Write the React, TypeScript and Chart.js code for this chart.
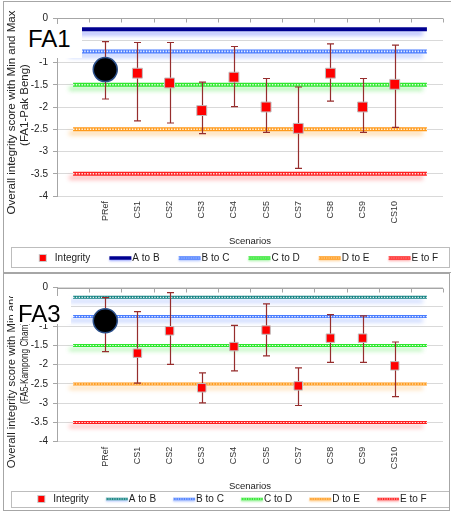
import React, { useEffect, useRef } from 'react';
import { Chart, registerables } from 'chart.js';

Chart.register(...registerables);

const FONT = "'Liberation Sans', Arial, Helvetica, sans-serif";
Chart.defaults.font.family = FONT;

// ---------- data ----------
const CATEGORIES = ['', 'PRef', 'CS1', 'CS2', 'CS3', 'CS4', 'CS5', 'CS7', 'CS8', 'CS9', 'CS10', ''];
const HIGHLIGHT_CATEGORY = 'PRef';

const Y_MIN = -4;
const Y_MAX = 0;
const Y_STEP = 0.5;

const Y_TITLE = 'Overall integrity score with Min and Max';
const X_TITLE = 'Scenarios';

// FA1 - Pak Beng
const FA1_INTEGRITY = [null, -1.16, -1.24, -1.46, -2.08, -1.33, -2.0, -2.48, -1.24, -2.0, -1.49, null];
const FA1_MAX = [null, -0.53, -0.55, -0.55, -1.44, -0.64, -1.36, -1.55, -0.58, -1.36, -0.61, null];
const FA1_MIN = [null, -1.82, -2.31, -2.36, -2.6, -1.99, -2.57, -3.38, -1.87, -2.57, -2.46, null];

// FA3 - Kampong Cham
const FA3_INTEGRITY = [null, -0.86, -1.7, -1.12, -2.6, -1.53, -1.1, -2.55, -1.31, -1.31, -2.03, null];
const FA3_MAX = [null, -0.26, -0.62, -0.13, -2.21, -0.98, -0.42, -2.08, -0.7, -0.73, -1.41, null];
const FA3_MIN = [null, -1.66, -2.48, -1.99, -2.99, -2.16, -1.77, -3.06, -1.94, -1.94, -2.83, null];

// class boundary lines
const A_TO_B = [-0.25, -0.25, -0.25, -0.25, -0.25, -0.25, -0.25, -0.25, -0.25, -0.25, -0.25, -0.25];
const B_TO_C = [-0.75, -0.75, -0.75, -0.75, -0.75, -0.75, -0.75, -0.75, -0.75, -0.75, -0.75, -0.75];
const C_TO_D = [-1.5, -1.5, -1.5, -1.5, -1.5, -1.5, -1.5, -1.5, -1.5, -1.5, -1.5, -1.5];
const D_TO_E = [-2.5, -2.5, -2.5, -2.5, -2.5, -2.5, -2.5, -2.5, -2.5, -2.5, -2.5, -2.5];
const E_TO_F = [-3.5, -3.5, -3.5, -3.5, -3.5, -3.5, -3.5, -3.5, -3.5, -3.5, -3.5, -3.5];

// ---------- styles ----------
const LINE_STYLES_FA1 = [
  { label: 'A to B', data: A_TO_B, color: '#000090', glow: 'rgba(90,110,255,0.5)', dotted: false },
  { label: 'B to C', data: B_TO_C, color: '#4a7dff', glow: 'rgba(100,140,255,0.45)', dotted: true },
  { label: 'C to D', data: C_TO_D, color: '#2ee82e', glow: 'rgba(80,230,80,0.45)', dotted: true },
  { label: 'D to E', data: D_TO_E, color: '#ff9a1a', glow: 'rgba(255,170,60,0.45)', dotted: true },
  { label: 'E to F', data: E_TO_F, color: '#ff1f1f', glow: 'rgba(255,70,70,0.4)', dotted: true },
];
const LINE_STYLES_FA3 = [
  { label: 'A to B', data: A_TO_B, color: '#128282', glow: 'rgba(100,140,255,0.4)', dotted: true },
  { label: 'B to C', data: B_TO_C, color: '#4a7dff', glow: 'rgba(100,140,255,0.45)', dotted: true },
  { label: 'C to D', data: C_TO_D, color: '#2ee82e', glow: 'rgba(80,230,80,0.45)', dotted: true },
  { label: 'D to E', data: D_TO_E, color: '#ff9a1a', glow: 'rgba(255,170,60,0.45)', dotted: true },
  { label: 'E to F', data: E_TO_F, color: '#ff1f1f', glow: 'rgba(255,70,70,0.4)', dotted: true },
];

const FA1_SPEC = {
  yTitle: [
    { text: Y_TITLE, size: 11.5, x: 12, dy: 5.5, maxWidth: 0 },
    { text: '(FA1-Pak Beng)', size: 11.5, x: 25, dy: -2, maxWidth: 0 },
  ],
  integrity: FA1_INTEGRITY, max: FA1_MAX, min: FA1_MIN,
  lines: LINE_STYLES_FA1,
  lineWidth: 4,
  markerRadius: 7,
  highlightRadius: 12,
  padding: { top: 18, left: 0, right: 1, bottom: 0 },
  xAxisHeight: 52,
  xTitlePadBottom: 2.25,
  legendPadding: 5,
  legendShift: 3,
  legendBox: { left: 11, right: 449, above: 11, below: 9 },
};
const FA3_SPEC = {
  yTitle: [
    { text: Y_TITLE, size: 11.3, x: 12, dy: 3.3, maxWidth: 0 },
    { text: '(FA5-Kampong Cham)', size: 11, x: 25, dy: -1.7, maxWidth: 82 },
  ],
  integrity: FA3_INTEGRITY, max: FA3_MAX, min: FA3_MIN,
  lines: LINE_STYLES_FA3,
  lineWidth: 3,
  markerRadius: 6,
  highlightRadius: 12,
  padding: { top: 14.7, left: 0, right: 8, bottom: 0 },
  xAxisHeight: 49.3,
  xTitlePadBottom: 0,
  legendPadding: 3,
  legendShift: 0,
  legendBox: { left: 11, right: 449, above: 8, below: 8 },
};

const ERROR_COLOR = '#962d2d';

function legendImage(kind: string, color: string, glow: string, dotted: boolean, lw: number) {
  const c = document.createElement('canvas');
  c.width = 42;
  c.height = 12;
  const g = c.getContext('2d') as CanvasRenderingContext2D;
  if (kind === 'marker') {
    g.fillStyle = color;
    g.fillRect(27, 3, 6, 6);
    g.strokeStyle = '#c8c8c8';
    g.lineWidth = 1;
    g.strokeRect(26.5, 2.5, 7, 7);
    return c;
  }
  g.save();
  g.shadowColor = glow;
  g.shadowBlur = 2;
  g.shadowOffsetY = 1.5;
  g.strokeStyle = color;
  g.lineWidth = lw;
  g.beginPath();
  g.moveTo(19, 6);
  g.lineTo(41, 6);
  g.stroke();
  g.restore();
  if (dotted) {
    g.strokeStyle = 'rgba(255,255,255,0.9)';
    g.lineWidth = 1;
    g.setLineDash([1.2, 1.2]);
    g.beginPath();
    g.moveTo(19, 6);
    g.lineTo(41, 6);
    g.stroke();
  }
  return c;
}

function buildConfig(spec: any) {
  const isHi = (c: any) => CATEGORIES[c.dataIndex] === HIGHLIGHT_CATEGORY;
  const datasets: any[] = [
    {
      label: 'Integrity',
      data: spec.integrity,
      showLine: false,
      pointStyle: (c: any) => (isHi(c) ? 'circle' : 'rect'),
      pointRadius: (c: any) => (isHi(c) ? spec.highlightRadius : spec.markerRadius),
      pointBackgroundColor: (c: any) => (isHi(c) ? '#000000' : '#ff0000'),
      pointBorderColor: (c: any) => (isHi(c) ? '#2b4f8a' : '#bfbfbf'),
      pointBorderWidth: (c: any) => (isHi(c) ? 1.5 : 1),
    },
    ...spec.lines.map((l: any) => ({
      label: l.label,
      data: l.data,
      borderColor: l.color,
      backgroundColor: l.color,
      borderWidth: spec.lineWidth,
      pointRadius: 0,
      fill: false,
      tension: 0,
      glowColor: l.glow,
      dotted: l.dotted,
    })),
  ];

  const legendItems = [
    { text: 'Integrity', pointStyle: legendImage('marker', '#ff0000', '', false, 0) },
    ...spec.lines.map((l: any) => ({
      text: l.label,
      pointStyle: legendImage('line', l.color, l.glow, l.dotted, spec.lineWidth - 0.5),
    })),
  ].map((it, i) => ({
    ...it,
    fillStyle: 'rgba(0,0,0,0)',
    strokeStyle: 'rgba(0,0,0,0)',
    lineWidth: 0,
    hidden: false,
    datasetIndex: i,
    fontColor: '#222',
  }));

  const drawErrorBars = (chart: any) => {
    const ctx = chart.ctx;
    const xs = chart.scales.x;
    const ys = chart.scales.y;
    ctx.save();
    ctx.strokeStyle = ERROR_COLOR;
    ctx.lineWidth = 1.2;
    for (let i = 0; i < CATEGORIES.length; i++) {
      const hi = spec.max[i];
      const lo = spec.min[i];
      if (hi == null || lo == null) continue;
      const x = Math.round(xs.getPixelForValue(i)) + 0.5;
      const y1 = ys.getPixelForValue(hi);
      const y2 = ys.getPixelForValue(lo);
      ctx.beginPath();
      ctx.moveTo(x, y1);
      ctx.lineTo(x, y2);
      ctx.moveTo(x - 3.5, y1);
      ctx.lineTo(x + 3.5, y1);
      ctx.moveTo(x - 3.5, y2);
      ctx.lineTo(x + 3.5, y2);
      ctx.stroke();
    }
    ctx.restore();
  };

  const decor = {
    id: 'panelDecor',
    afterLayout(chart: any) {
      if (chart.legend) {
        chart.legend.left += spec.legendShift;
        chart.legend.right += spec.legendShift;
      }
    },
    beforeDatasetsDraw(chart: any) {
      const ctx = chart.ctx;
      const xs = chart.scales.x;
      const ys = chart.scales.y;
      const { left, right } = chart.chartArea;
      const y = Math.round(ys.getPixelForValue(Y_MAX)) + 0.5;
      ctx.save();
      ctx.strokeStyle = '#a6a6a6';
      ctx.lineWidth = 1;
      ctx.beginPath();
      ctx.moveTo(left, y);
      ctx.lineTo(right, y);
      for (let i = 0; i <= CATEGORIES.length; i++) {
        const x = Math.round(xs.getPixelForValue(i - 0.5)) + 0.5;
        ctx.moveTo(x, y);
        ctx.lineTo(x, y + 4);
      }
      ctx.stroke();
      ctx.restore();
    },
    beforeDatasetDraw(chart: any, args: any) {
      const ds = chart.data.datasets[args.index];
      const ctx = chart.ctx;
      if (ds.glowColor) {
        ctx.save();
        ctx.shadowColor = ds.glowColor;
        ctx.shadowBlur = 4;
        ctx.shadowOffsetX = -4;
        ctx.shadowOffsetY = 4;
      }
      if (args.index === 0) drawErrorBars(chart);
    },
    afterDatasetDraw(chart: any, args: any) {
      const ds = chart.data.datasets[args.index];
      const ctx = chart.ctx;
      if (ds.glowColor) ctx.restore();
      if (ds.dotted) {
        const pts = args.meta.data;
        if (!pts.length) return;
        ctx.save();
        ctx.strokeStyle = 'rgba(255,255,255,0.9)';
        ctx.lineWidth = ds.borderWidth * 0.38;
        ctx.setLineDash([1.4, 1.4]);
        ctx.beginPath();
        ctx.moveTo(pts[0].x, pts[0].y);
        for (let i = 1; i < pts.length; i++) ctx.lineTo(pts[i].x, pts[i].y);
        ctx.stroke();
        ctx.restore();
      }
    },
    afterDraw(chart: any) {
      const ctx = chart.ctx;
      // y-axis title (two lines, rotated)
      const ca = chart.chartArea;
      const mid = (ca.top + ca.bottom) / 2;
      for (const t of spec.yTitle) {
        ctx.save();
        ctx.translate(t.x, mid + t.dy);
        ctx.rotate(-Math.PI / 2);
        ctx.font = `${t.size}px ${FONT}`;
        ctx.fillStyle = '#222';
        ctx.textAlign = 'center';
        ctx.textBaseline = 'middle';
        if (t.maxWidth) ctx.fillText(t.text, 0, 0, t.maxWidth);
        else ctx.fillText(t.text, 0, 0);
        ctx.restore();
      }
      // legend frame
      const lg = chart.legend;
      if (!lg || !lg.legendHitBoxes || !lg.legendHitBoxes.length) return;
      const hb = lg.legendHitBoxes[0];
      const cy = hb.top + hb.height / 2;
      const b = spec.legendBox;
      ctx.save();
      ctx.strokeStyle = '#bdbdbd';
      ctx.lineWidth = 1;
      ctx.strokeRect(b.left + 0.5, Math.round(cy - b.above) + 0.5, b.right - b.left, b.above + b.below);
      ctx.restore();
    },
  };

  return {
    type: 'line',
    data: { labels: CATEGORIES, datasets },
    plugins: [decor],
    options: {
      responsive: false,
      animation: false,
      events: [],
      layout: { padding: spec.padding },
      plugins: {
        tooltip: { enabled: false },
        legend: {
          position: 'bottom',
          labels: {
            usePointStyle: true,
            pointStyleWidth: 32,
            padding: spec.legendPadding,
            font: { size: 10, family: FONT },
            color: '#222',
            generateLabels: () => legendItems,
          },
        },
      },
      scales: {
        x: {
          type: 'category',
          offset: true,
          grid: { display: false, drawTicks: false },
          border: { display: false },
          ticks: {
            autoSkip: false,
            maxRotation: 90,
            minRotation: 90,
            padding: 5,
            font: { size: 9, family: FONT },
            color: '#333',
          },
          title: {
            display: true,
            text: X_TITLE,
            color: '#222',
            font: { size: 9.5, lineHeight: 1, family: FONT },
            padding: { top: 0, bottom: spec.xTitlePadBottom },
          },
          afterFit: (s: any) => {
            s.height = spec.xAxisHeight;
          },
        },
        y: {
          min: Y_MIN,
          max: Y_MAX,
          ticks: {
            stepSize: Y_STEP,
            padding: 5,
            font: { size: 10, family: FONT },
            color: '#222',
            callback: (v: any) => String(Number(v)),
          },
          grid: { color: '#d9d9d9', tickColor: '#a6a6a6', tickLength: 4 },
          border: { color: '#a6a6a6' },
          title: { display: false },
          afterFit: (s: any) => {
            s.width = 57;
          },
        },
      },
    },
  };
}

function ChartPanel({ spec, width, height }: { spec: any; width: number; height: number }) {
  const ref = useRef<HTMLCanvasElement | null>(null);
  useEffect(() => {
    if (!ref.current) return;
    const chart = new Chart(ref.current, buildConfig(spec) as any);
    return () => chart.destroy();
  }, [spec]);
  return <canvas ref={ref} width={width} height={height} style={{ display: 'block', width, height }} />;
}

function LabelBox({ text, left, top, width, height, textLeft, textTop }: any) {
  return (
    <div style={{ position: 'absolute', left, top, width, height, background: '#ffffff' }}>
      <div
        style={{
          position: 'absolute',
          left: textLeft,
          top: textTop,
          fontFamily: FONT,
          fontSize: 24,
          lineHeight: 1,
          color: '#000',
          whiteSpace: 'nowrap',
        }}
      >
        {text}
      </div>
    </div>
  );
}

export default function App() {
  return (
    <div
      style={{
        position: 'absolute',
        left: 0,
        top: 0,
        width: 451,
        height: 512,
        overflow: 'hidden',
        background: '#ffffff',
      }}
    >
      <div style={{ position: 'absolute', left: 0, top: 0 }}>
        <ChartPanel spec={FA1_SPEC} width={451} height={273} />
      </div>
      <div style={{ position: 'absolute', left: 0, top: 273 }}>
        <ChartPanel spec={FA3_SPEC} width={451} height={241} />
      </div>
      <div style={{ position: 'absolute', left: 4, top: 274, width: 36, height: 22, background: '#ffffff' }} />
      <div
        style={{
          position: 'absolute',
          left: 3,
          top: 1,
          width: 460,
          height: 272,
          boxSizing: 'border-box',
          border: '1px solid #a6a6a6',
          pointerEvents: 'none',
        }}
      />
      <div
        style={{
          position: 'absolute',
          left: 3,
          top: 273,
          width: 447,
          height: 238,
          boxSizing: 'border-box',
          border: '1px solid #a6a6a6',
          pointerEvents: 'none',
        }}
      />
      <LabelBox text="FA1" left={19} top={24} width={63} height={34} textLeft={9} textTop={3} />
      <LabelBox text="FA3" left={13} top={296} width={58} height={28} textLeft={5} textTop={6} />
    </div>
  );
}
